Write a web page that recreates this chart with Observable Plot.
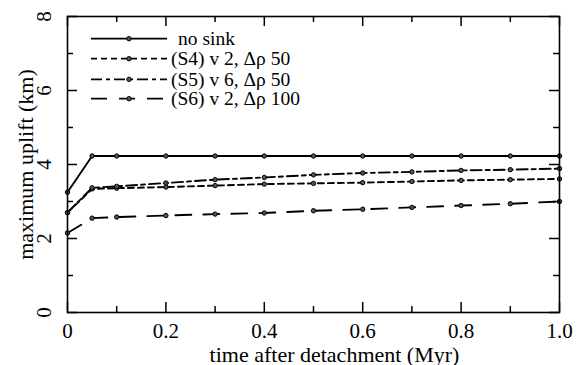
<!DOCTYPE html>
<html><head><meta charset="utf-8">
<script src="https://cdn.jsdelivr.net/npm/d3@7"></script>
<script src="https://cdn.jsdelivr.net/npm/@observablehq/plot@0.6"></script>
<style>body{margin:0;background:#fff} svg, svg text{font-family:"Liberation Serif","Times New Roman",Tinos,"DejaVu Serif","Noto Serif",serif !important}</style>
</head><body><div id="chart"></div>
<script>
// ---- data ----
const time   = [0, 0.05, 0.1, 0.2, 0.3, 0.4, 0.5, 0.6, 0.7, 0.8, 0.9, 1.0];
const noSink = [3.25, 4.23, 4.23, 4.23, 4.23, 4.23, 4.23, 4.23, 4.23, 4.23, 4.23, 4.23];
const s4     = [2.70, 3.34, 3.36, 3.39, 3.43, 3.47, 3.49, 3.51, 3.54, 3.57, 3.59, 3.61];
const s5     = [2.70, 3.37, 3.41, 3.50, 3.59, 3.65, 3.72, 3.77, 3.80, 3.84, 3.86, 3.89];
const s6     = [2.15, 2.55, 2.58, 2.62, 2.66, 2.69, 2.75, 2.79, 2.84, 2.89, 2.94, 3.00];
const seriesNames = ["no sink", "(S4) v 2, Δρ 50", "(S5) v 6, Δρ 50", "(S6) v 2, Δρ 100"];
const xMajor = [0, 0.2, 0.4, 0.6, 0.8, 1.0];
const xMinor = [0.1, 0.3, 0.5, 0.7, 0.9];
const yMajor = [0, 2, 4, 6, 8];
const yMinor = [1, 3, 5, 7];
const xTickLabels = ["0", "0.2", "0.4", "0.6", "0.8", "1.0"];
const yTickLabels = ["0", "2", "4", "6", "8"];
const xTitle = "time after detachment (Myr)";
const yTitle = "maximum uplift (km)";

// ---- styles ----
const dashes = [null, "6,4", "11,4,4,4", "16,12"];
const seriesValues = [noSink, s4, s5, s6];
const FONT = "Liberation Serif, Times New Roman, Tinos, DejaVu Serif, serif";

const W = 586, H = 365, mL = 67, mR = 27, mT = 16, mB = 53;
const fw = W - mL - mR, fh = H - mT - mB;

const marks = [];
seriesValues.forEach((vals, k) => {
  const rows = time.map((t, i) => ({t, v: vals[i]}));
  marks.push(Plot.line(rows, {x: "t", y: "v", stroke: "black", strokeWidth: 1.9, strokeDasharray: dashes[k]}));
  marks.push(Plot.dot(rows, {x: "t", y: "v", r: 2.2, stroke: "black", strokeWidth: 1, fill: "#555"}));
});
// inward ticks on all four sides
const tk = {stroke: "black", strokeWidth: 1.5};
const tx = {fill: "black", fontFamily: FONT};
marks.push(
  Plot.tickX(xMajor, {x: d => d, insetTop: fh - 10, ...tk}),
  Plot.tickX(xMajor, {x: d => d, insetBottom: fh - 10, ...tk}),
  Plot.tickX(xMinor, {x: d => d, insetTop: fh - 6, ...tk}),
  Plot.tickX(xMinor, {x: d => d, insetBottom: fh - 6, ...tk}),
  Plot.tickY(yMajor, {y: d => d, insetRight: fw - 10, ...tk}),
  Plot.tickY(yMajor, {y: d => d, insetLeft: fw - 10, ...tk}),
  Plot.tickY(yMinor, {y: d => d, insetRight: fw - 6, ...tk}),
  Plot.tickY(yMinor, {y: d => d, insetLeft: fw - 6, ...tk}),
  Plot.frame({stroke: "black", strokeWidth: 1.6}),
  Plot.text(xMajor, {x: d => d, text: (d, i) => xTickLabels[i], frameAnchor: "bottom", dy: 25, lineAnchor: "bottom", textAnchor: "middle", fontSize: 21, ...tx}),
  Plot.text(yMajor, {y: d => d, text: (d, i) => yTickLabels[i], frameAnchor: "left", rotate: -90, dx: -17, lineAnchor: "bottom", textAnchor: "middle", fontSize: 21, ...tx}),
  Plot.text([xTitle], {frameAnchor: "bottom", dx: 21, dy: 49, lineAnchor: "bottom", textAnchor: "middle", fontSize: 22, ...tx}),
  Plot.text([yTitle], {frameAnchor: "left", rotate: -90, dx: -35, lineAnchor: "bottom", textAnchor: "middle", fontSize: 22, ...tx})
);

const chart = Plot.plot({
  width: W, height: H,
  marginLeft: mL, marginRight: mR, marginTop: mT, marginBottom: mB,
  style: "background: white; overflow: visible;",
  x: {domain: [0, 1], axis: null},
  y: {domain: [0, 8], axis: null},
  marks
});
document.getElementById("chart").appendChild(chart);

// ---- legend (inside the frame, top-left) ----
const svg = d3.select(chart);
const lg = svg.append("g").attr("class", "legend").attr("text-anchor", "start");
const rowY = [38.7, 58.7, 79.3, 98.7];
const textX = [178, 171, 171, 171];
seriesNames.forEach((name, k) => {
  const y = rowY[k];
  lg.append("line").attr("x1", 91).attr("x2", 167).attr("y1", y).attr("y2", y)
    .attr("stroke", "black").attr("stroke-width", 1.8).attr("stroke-dasharray", dashes[k]);
  lg.append("circle").attr("cx", 129).attr("cy", y).attr("r", 2.2)
    .attr("stroke", "black").attr("stroke-width", 1).attr("fill", "#555");
  lg.append("text").attr("x", textX[k]).attr("y", y + 6.5).attr("font-size", 19.5)
    .attr("font-family", FONT).attr("text-anchor", "start").attr("fill", "black").text(name);
});
</script></body></html>
